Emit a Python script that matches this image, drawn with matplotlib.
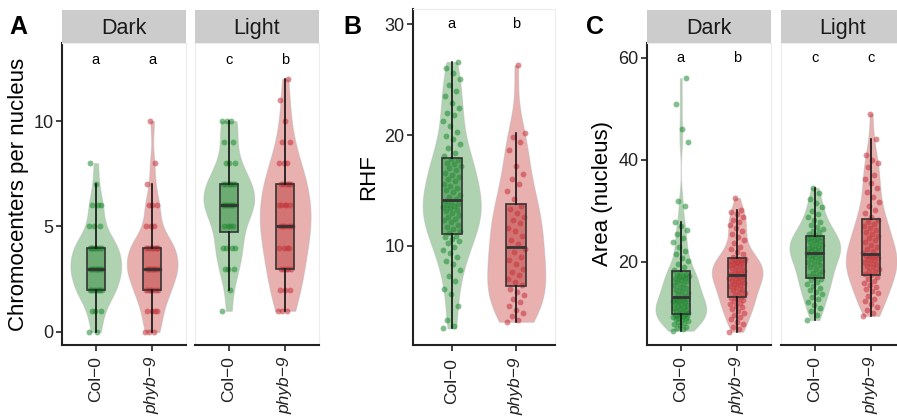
import matplotlib.pyplot as plt
import numpy as np
from matplotlib.colors import to_rgb

plt.rcParams["font.family"] = ["Liberation Sans", "DejaVu Sans"]

# ---- data ----
genotypes = ["Col\u22120", "phyb\u22129"]

# A: chromocenters per nucleus
chromo_dark_col = [0, 0, 1, 1, 1, 2, 2, 2, 2, 2, 2, 2, 2, 3, 3, 3, 3, 3, 3, 3, 3, 3, 3,
                   4, 4, 4, 4, 4, 4, 4, 4, 4, 5, 5, 5, 6, 6, 6, 7, 8]
chromo_dark_phyb = [0, 0, 0, 1, 1, 1, 1, 2, 2, 2, 2, 2, 2, 2, 3, 3, 3, 3, 3, 3, 3, 3, 3, 3,
                    4, 4, 4, 4, 4, 4, 4, 4, 4, 5, 5, 5, 6, 6, 6, 7, 8, 10]
chromo_light_col = [1, 2, 3, 3, 3, 4, 4, 4, 4, 5, 5, 5, 5, 6, 6, 6, 6, 6, 6, 6, 6,
                    7, 7, 7, 7, 7, 7, 7, 8, 8, 8, 9, 9, 10, 10, 10]
chromo_light_phyb = [1, 1, 1, 2, 2, 2, 3, 3, 3, 3, 3, 4, 4, 4, 4, 5, 5, 5, 5, 5, 5, 5,
                     6, 6, 6, 6, 6, 7, 7, 7, 7, 7, 7, 8, 8, 8, 9, 9, 10, 11, 12]

# B: RHF
rhf_col = [2.5, 2.7, 3.3, 4.5, 5.6, 6.1, 6.8, 7.2, 7.8, 8.3, 8.6, 9.0, 9.3, 9.6, 9.9, 10.2,
           10.4, 10.6, 10.8, 10.9, 11.1, 11.3, 11.5, 11.7, 11.9, 12.1, 12.3, 12.4, 12.6,
           12.8, 12.9, 13.1, 13.2, 13.4, 13.5, 13.6, 13.7, 13.8, 13.9, 14.0, 14.2, 14.4,
           14.6, 14.8, 15.0, 15.2, 15.4, 15.6, 15.8, 16.0, 16.2, 16.4, 16.6, 16.8, 17.0,
           17.2, 17.4, 17.5, 17.7, 17.8, 18.1, 18.4, 18.8, 19.2, 19.6, 19.9, 20.3, 20.8,
           21.3, 21.8, 22.0, 22.4, 22.9, 23.5, 24.0, 24.5, 25.1, 25.6, 26.1, 26.6]
rhf_phyb = [3.1, 3.3, 3.6, 3.9, 4.2, 4.5, 4.9, 5.2, 5.5, 5.8, 6.1, 6.4, 6.7, 7.0, 7.3, 7.6,
            7.9, 8.3, 8.7, 9.0, 9.4, 9.7, 10.1, 10.5, 10.9, 11.3, 11.6, 12.0, 12.3, 12.6,
            12.9, 13.3, 13.6, 14.2, 14.9, 15.6, 16.0, 16.5, 17.2, 18.6, 19.4, 19.8, 20.2, 26.3]

# C: nucleus area
area_dark_col = [6.5, 6.8, 7.0, 7.3, 7.6, 7.8, 8.0, 8.2, 8.4, 8.6, 8.8, 8.9, 9.0, 9.1, 9.2,
                 9.3, 9.4, 9.5, 9.6, 9.7, 9.8, 10.0, 10.2, 10.4, 10.6, 10.8, 11.0, 11.2,
                 11.4, 11.6, 11.8, 12.0, 12.2, 12.3, 12.4, 12.5, 12.6, 12.7, 12.9, 13.0,
                 13.3, 13.6, 13.9, 14.2, 14.5, 14.8, 15.1, 15.4, 15.7, 16.0, 16.3, 16.5,
                 16.7, 16.9, 17.0, 17.2, 17.3, 17.5, 17.6, 18.0, 18.5, 19.0, 19.6, 20.2,
                 20.8, 21.5, 22.2, 23.0, 23.8, 24.6, 25.4, 26.3, 27.1, 27.8, 31.0, 32.0,
                 43.5, 46.0, 51.0, 56.0]
area_dark_phyb = [6.3, 6.8, 7.3, 7.8, 8.3, 8.8, 9.2, 9.6, 10.0, 10.4, 10.8, 11.1, 11.4, 11.7,
                  12.0, 12.3, 12.5, 12.7, 12.9, 13.2, 13.5, 13.8, 14.1, 14.4, 14.7, 15.0,
                  15.3, 15.5, 15.7, 15.9, 16.1, 16.3, 16.5, 16.7, 16.9, 17.0, 17.2, 17.3,
                  17.5, 17.7, 17.9, 18.1, 18.3, 18.5, 18.7, 18.9, 19.1, 19.3, 19.5, 19.7,
                  19.9, 20.0, 20.1, 20.2, 20.4, 20.5, 20.6, 21.0, 21.5, 22.0, 22.5, 23.0,
                  23.6, 24.2, 24.8, 25.4, 26.0, 26.6, 27.2, 27.8, 28.3, 28.8, 29.3, 29.8,
                  30.2, 32.5]
area_light_col = [8.6, 9.5, 10.3, 11.0, 11.6, 12.2, 12.7, 13.2, 13.7, 14.1, 14.5, 14.9, 15.3,
                  15.7, 16.0, 16.4, 16.7, 17.0, 17.3, 17.6, 17.9, 18.3, 18.6, 18.9, 19.3,
                  19.6, 19.9, 20.2, 20.5, 20.8, 21.0, 21.2, 21.4, 21.6, 21.8, 22.0, 22.2,
                  22.4, 22.6, 22.8, 23.0, 23.2, 23.4, 23.6, 23.8, 24.0, 24.2, 24.4, 24.6,
                  24.8, 24.9, 25.2, 25.5, 25.8, 26.1, 26.5, 26.9, 27.3, 27.8, 28.3, 28.8,
                  29.4, 30.0, 30.7, 31.5, 32.4, 33.4, 34.5]
area_light_phyb = [9.4, 10.0, 10.6, 11.2, 11.8, 12.3, 12.8, 13.3, 13.8, 14.3, 14.7, 15.1,
                   15.5, 15.9, 16.3, 16.7, 17.1, 17.4, 17.7, 18.0, 18.3, 18.6, 18.9, 19.2,
                   19.5, 19.8, 20.0, 20.3, 20.5, 20.7, 20.9, 21.1, 21.3, 21.4, 21.8, 22.2,
                   22.6, 23.0, 23.4, 23.8, 24.2, 24.6, 25.0, 25.4, 25.8, 26.2, 26.6, 27.0,
                   27.4, 27.8, 28.2, 28.8, 29.5, 30.2, 31.0, 31.8, 32.7, 33.6, 34.5, 35.5,
                   36.2, 37.0, 38.6, 39.4, 39.9, 41.0, 44.1, 49.0]

letters_a = [["a", "a"], ["c", "b"]]
letters_b = ["a", "b"]
letters_c = [["a", "b"], ["c", "c"]]

# ---- styling ----
W, H = 897, 417
fill_colors = ["#4e9f50", "#d05050"]
point_colors = ["#1c8a30", "#c4323a"]
box_colors = ["#2a8536", "#bf3a3a"]
edge = "#333333"

fig = plt.figure(figsize=(W / 100, H / 100), dpi=100)


def px_axes(x0, y0, x1, y1):
    # axes from pixel box (top-left origin)
    return fig.add_axes([x0 / W, 1 - y1 / H, (x1 - x0) / W, (y1 - y0) / H])


def kde_nrd0(values, grid):
    v = np.asarray(values, float)
    n = len(v)
    sd = v.std(ddof=1)
    iqr = np.subtract(*np.percentile(v, [75, 25]))
    bw = 0.9 * min(sd, iqr / 1.34) * n ** -0.2
    z = (grid[:, None] - v[None, :]) / bw
    return np.exp(-0.5 * z**2).sum(axis=1)


def draw_groups(ax, groups, jitter=0.13):
    for i, vals in enumerate(groups):
        pos = i + 1
        vals = np.asarray(vals, float)
        # violin
        grid = np.linspace(vals.min(), vals.max(), 200)
        dens = kde_nrd0(vals, grid)
        half = 0.45 * dens / dens.max()
        ax.fill_betweenx(grid, pos - half, pos + half, facecolor=fill_colors[i],
                         alpha=0.45, edgecolor="#b5b5b5", linewidth=0.8, zorder=1)
        # jittered points (deterministic spread)
        offs = ((np.arange(len(vals)) * 0.618034) % 1 - 0.5) * 2 * jitter
        ax.scatter(pos + offs, vals, s=18, color=point_colors[i], alpha=0.55,
                   linewidths=0, zorder=2)
        # box
        bp = ax.boxplot([vals], positions=[pos], widths=0.31, showfliers=False,
                        patch_artist=True, manage_ticks=False, zorder=3)
        for b in bp["boxes"]:
            b.set_facecolor((*to_rgb(box_colors[i]), 0.5))
            b.set_edgecolor(edge)
            b.set_linewidth(1.2)
        for ln in bp["whiskers"]:
            ln.set_color("#111111")
            ln.set_linewidth(1.2)
        for ln in bp["medians"]:
            ln.set_color(edge)
            ln.set_linewidth(2.0)
        for ln in bp["caps"]:
            ln.set_visible(False)


def style_axes(ax, ylim, yticks, show_y=True):
    ax.set_xlim(0.4, 2.6)
    ax.set_ylim(*ylim)
    ax.set_xticks([1, 2])
    ax.set_xticklabels([])
    for s in ("top", "right"):
        ax.spines[s].set_color("#ececec")
        ax.spines[s].set_linewidth(0.8)
    ax.spines["bottom"].set_color("#222222")
    ax.spines["bottom"].set_linewidth(1.5)
    ax.tick_params(axis="x", length=4, width=1.2, color="#222222")
    if show_y:
        ax.spines["left"].set_color("#222222")
        ax.spines["left"].set_linewidth(1.5)
        ax.set_yticks(yticks)
        ax.tick_params(axis="y", length=4, width=1.2, color="#222222", labelsize=13,
                       labelcolor="#222222", pad=2)
    else:
        ax.spines["left"].set_color("#ececec")
        ax.spines["left"].set_linewidth(0.8)
        ax.set_yticks([])
    # x tick labels, genotype in italics
    for pos, lab in zip([1, 2], genotypes):
        ax.text(pos, -0.038, lab, transform=ax.get_xaxis_transform(), rotation=90,
                ha="center", va="top", fontsize=12.5, color="#222222",
                style="italic" if lab.startswith("phyb") else "normal")


def strip(x0, x1, label):
    s = px_axes(x0, 10, x1, 43)
    s.set_facecolor("#cccccc")
    s.set_xticks([])
    s.set_yticks([])
    for sp in s.spines.values():
        sp.set_visible(False)
    s.text(0.5, 0.45, label, ha="center", va="center", fontsize=15.5, color="#1a1a1a")


# ---- panel A ----
a_lim = (-0.62, 13.7)
for k, (x0, x1, cond, groups) in enumerate([
        (62, 186, "Dark", [chromo_dark_col, chromo_dark_phyb]),
        (195, 319, "Light", [chromo_light_col, chromo_light_phyb])]):
    ax = px_axes(x0, 43, x1, 345)
    draw_groups(ax, groups, jitter=0.12)
    style_axes(ax, a_lim, [0, 5, 10], show_y=(k == 0))
    for pos, let in zip([1, 2], letters_a[k]):
        ax.text(pos, 12.9, let, ha="center", va="center", fontsize=10.5)
    strip(x0, x1, cond)
    if k == 0:
        ax.set_ylabel("Chromocenters per nucleus", fontsize=16, labelpad=3)
fig.text(18 / W, 1 - 27 / H, "A", fontsize=18, fontweight="bold", ha="center", va="center")

# ---- panel B ----
ax = px_axes(413, 9, 555, 345)
draw_groups(ax, [rhf_col, rhf_phyb], jitter=0.14)
style_axes(ax, (1.0, 31.4), [10, 20, 30])
for pos, let in zip([1, 2], letters_b):
    ax.text(pos, 30, let, ha="center", va="center", fontsize=10.5)
ax.set_ylabel("RHF", fontsize=16, labelpad=4)
fig.text(352 / W, 1 - 27 / H, "B", fontsize=18, fontweight="bold", ha="center", va="center")

# ---- panel C ----
c_lim = (3.7, 62.9)
for k, (x0, x1, cond, groups) in enumerate([
        (647, 771, "Dark", [area_dark_col, area_dark_phyb]),
        (781, 905, "Light", [area_light_col, area_light_phyb])]):
    ax = px_axes(x0, 43, x1, 345)
    draw_groups(ax, groups, jitter=0.14)
    style_axes(ax, c_lim, [20, 40, 60], show_y=(k == 0))
    for pos, let in zip([1, 2], letters_c[k]):
        ax.text(pos, 60, let, ha="center", va="center", fontsize=10.5)
    strip(x0, x1, cond)
    if k == 0:
        ax.set_ylabel("Area (nucleus)", fontsize=16, labelpad=4)
fig.text(595 / W, 1 - 27 / H, "C", fontsize=18, fontweight="bold", ha="center", va="center")

fig.savefig("out.png", dpi=100)
